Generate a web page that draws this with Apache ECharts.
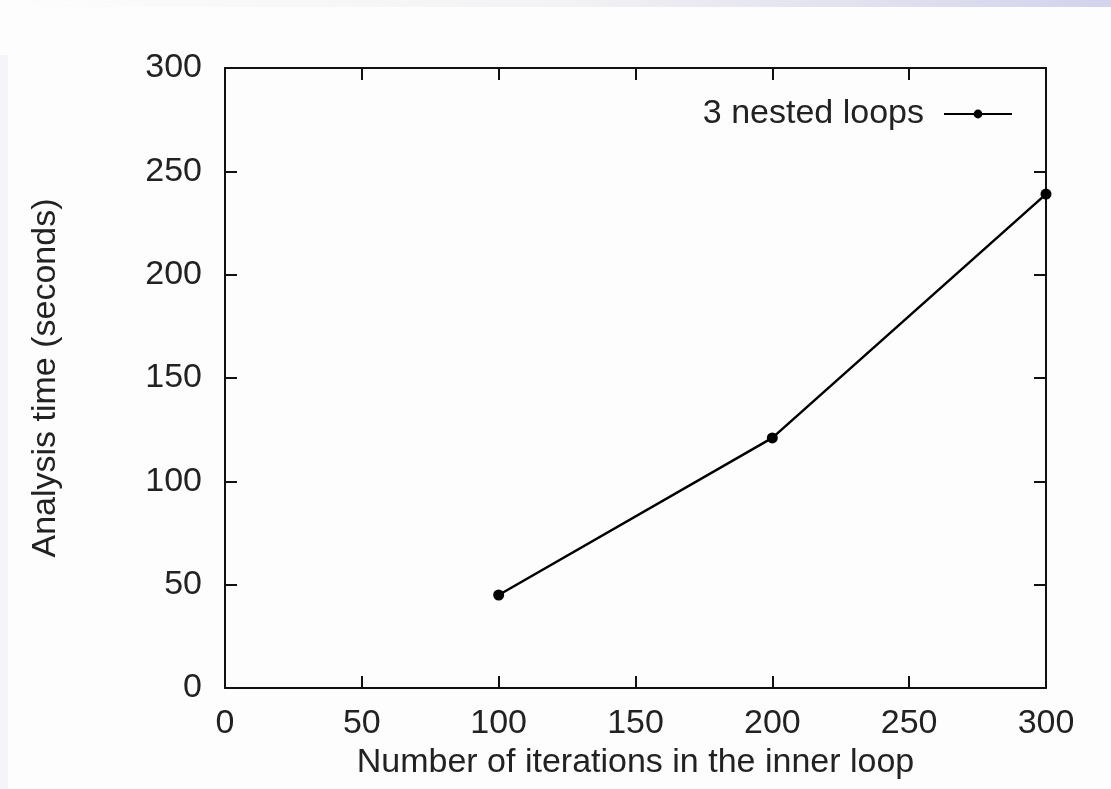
<!DOCTYPE html>
<html>
<head>
<meta charset="utf-8">
<script src="https://cdn.jsdelivr.net/npm/echarts@6/dist/echarts.min.js"></script>
<style>
  html, body { margin: 0; padding: 0; background: #fdfdfd; }
  #chart { width: 1111px; height: 789px; }
</style>
</head>
<body>
<div id="chart"></div>
<script>
// data
var iterations = [100, 200, 300];
var analysisTime = [45, 121, 239];
var xTicks = [0, 50, 100, 150, 200, 250, 300];
var yTicks = [0, 50, 100, 150, 200, 250, 300];

var points = iterations.map(function (x, i) { return [x, analysisTime[i]]; });

var font = 'Liberation Sans, Arial, sans-serif';
var fs = 34;
var tick = { show: true, inside: true, length: 12, lineStyle: { color: '#111', width: 2 } };
var line = { show: true, onZero: false, lineStyle: { color: '#111', width: 2 } };

var myChart = echarts.init(document.getElementById('chart'));
var option = {
  backgroundColor: '#fdfdfd',
  animation: false,
  textStyle: { fontFamily: font },
  graphic: [
    {
      type: 'rect', left: 0, top: 0, z: -10,
      shape: { width: 1111, height: 7 },
      style: {
        fill: new echarts.graphic.LinearGradient(0, 0, 1, 0, [
          { offset: 0, color: '#fdfdfd' },
          { offset: 0.5, color: '#f3f2f4' },
          { offset: 1, color: '#d2d3ec' }
        ])
      }
    },
    {
      type: 'rect', left: 0, top: 55, z: -10,
      shape: { width: 8, height: 734 },
      style: { fill: '#f5f4f8' }
    }
  ],
  grid: { left: 225, right: 65, top: 68, bottom: 101 },
  legend: {
    right: 93, top: 92,
    align: 'right',
    itemWidth: 68, itemHeight: 11,
    textStyle: { fontSize: fs, color: '#222', fontFamily: font, padding: [0, 15, 0, 0] },
    data: ['3 nested loops']
  },
  xAxis: [{
    type: 'value', min: 0, max: 300, interval: 50,
    name: 'Number of iterations in the inner loop',
    nameLocation: 'middle', nameGap: 55,
    nameTextStyle: { fontSize: fs, color: '#222' },
    axisLine: line, axisTick: tick,
    axisLabel: { fontSize: fs, color: '#222', margin: 19,
      formatter: function (v) { return xTicks.indexOf(v) >= 0 ? String(v) : ''; } },
    splitLine: { show: false }
  }, {
    type: 'value', min: 0, max: 300, interval: 50, position: 'top',
    axisLine: line, axisTick: tick, axisLabel: { show: false }, splitLine: { show: false }
  }],
  yAxis: [{
    type: 'value', min: 0, max: 300, interval: 50,
    name: 'Analysis time (seconds)',
    nameLocation: 'middle', nameGap: 162,
    nameTextStyle: { fontSize: fs, color: '#222' },
    axisLine: line, axisTick: tick,
    axisLabel: { fontSize: fs, color: '#222', margin: 23,
      formatter: function (v) { return yTicks.indexOf(v) >= 0 ? String(v) : ''; } },
    splitLine: { show: false }
  }, {
    type: 'value', min: 0, max: 300, interval: 50, position: 'right',
    axisLine: line, axisTick: tick, axisLabel: { show: false }, splitLine: { show: false }
  }],
  series: [{
    name: '3 nested loops',
    type: 'line',
    data: points,
    symbol: 'circle',
    symbolSize: 11,
    itemStyle: { color: '#000' },
    lineStyle: { color: '#000', width: 2.5 }
  }]
};
myChart.setOption(option);
</script>
</body>
</html>
